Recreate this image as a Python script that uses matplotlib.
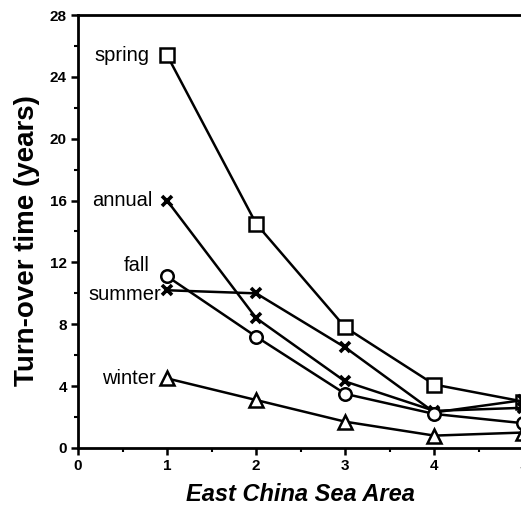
import matplotlib.pyplot as plt
from matplotlib.ticker import MultipleLocator

area = [1, 2, 3, 4, 5]
spring = [25.4, 14.5, 7.8, 4.1, 3.0]
annual = [16.0, 8.4, 4.3, 2.4, 2.6]
summer = [10.2, 10.0, 6.5, 2.3, 3.1]
fall = [11.1, 7.2, 3.5, 2.2, 1.6]
winter = [4.5, 3.1, 1.7, 0.8, 1.0]

fig = plt.figure(figsize=(5.21, 5.07), dpi=100)
ax = fig.add_axes([0.1497, 0.1164, 0.855, 0.854])

lw = 1.8
ax.plot(area, spring, '-s', color='k', lw=lw, ms=10, mfc='white', mew=1.8, zorder=3)
ax.plot(area, annual, '-x', color='k', lw=lw, ms=7, mew=2.6, zorder=3)
ax.plot(area, summer, '-x', color='k', lw=lw, ms=7, mew=2.6, zorder=3)
ax.plot(area, fall, '-o', color='k', lw=lw, ms=9, mfc='white', mew=1.8, zorder=3)
ax.plot(area, winter, '-^', color='k', lw=lw, ms=9.5, mfc='white', mew=1.8, zorder=3)

# season names sit just left of the first point
lab = dict(ha='right', va='center', fontsize=14.5, family='Liberation Sans')
ax.text(0.80, spring[0], 'spring', **lab)
ax.text(0.84, annual[0], 'annual', **lab)
ax.text(0.80, 11.8, 'fall', **lab)
ax.text(0.93, 9.9, 'summer', **lab)
ax.text(0.87, winter[0], 'winter', **lab)

ax.set_xlim(0, 5)
ax.set_ylim(0, 28)
ax.xaxis.set_major_locator(MultipleLocator(1))
ax.xaxis.set_minor_locator(MultipleLocator(0.5))
ax.yaxis.set_major_locator(MultipleLocator(4))
ax.yaxis.set_minor_locator(MultipleLocator(2))
ax.tick_params(which='major', direction='out', length=5, width=1.8, labelsize=11, pad=3)
ax.tick_params(which='minor', direction='out', length=3, width=1.5)
for t in ax.get_xticklabels() + ax.get_yticklabels():
    t.set_fontweight('bold')
    t.set_family('Liberation Sans')

for s in ['left', 'top', 'bottom']:
    ax.spines[s].set_linewidth(2)
ax.spines['right'].set_visible(False)

ax.set_xlabel('East China Sea Area', fontsize=17, fontweight='bold', style='italic',
              family='Liberation Sans', labelpad=7)
ax.set_ylabel('Turn-over time (years)', fontsize=20, fontweight='bold',
              family='Liberation Sans')
ax.yaxis.set_label_coords(-0.085, 0.48)

fig.savefig('out.png', dpi=100)
